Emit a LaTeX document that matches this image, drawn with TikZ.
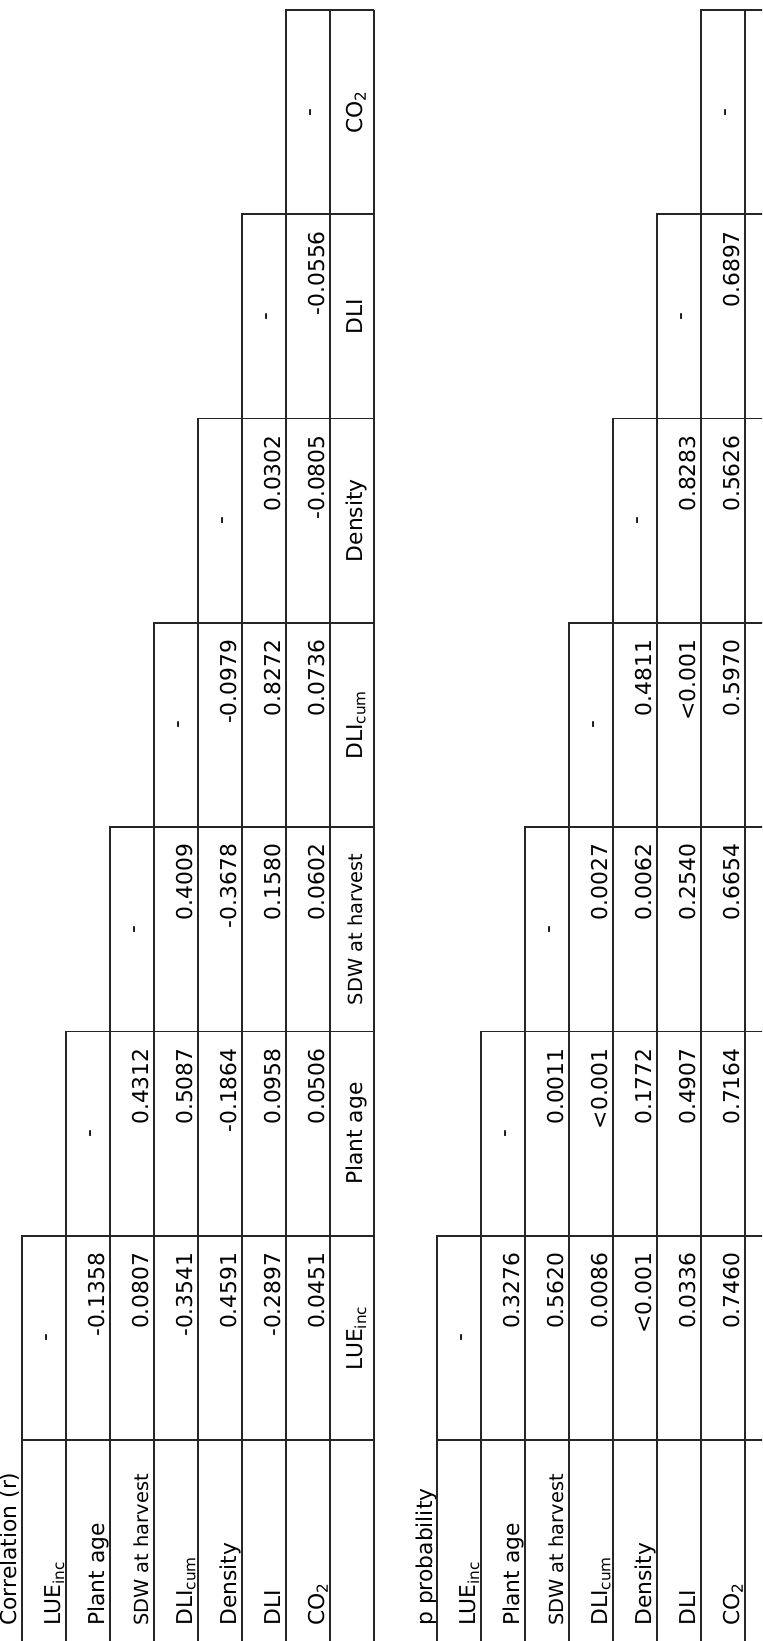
\documentclass[tikz,border=0pt]{standalone}
\usepackage{fontspec}
\setmainfont{DejaVu Sans}
\newcommand{\sdwname}{{\fontsize{9.7}{11}\selectfont SDW at harvest}}
\tikzset{
  gridline/.style={line width=0.85pt, draw=black!85},
  cell/.style={rotate=90, inner sep=0pt, font=\fontsize{10.9}{13}\selectfont},
  val/.style={cell, anchor=base east},
  rowname/.style={cell, anchor=base west},
  colname/.style={cell, anchor=base},
  nil/.style={cell, anchor=base}
}
\begin{document}
\begin{tikzpicture}[x=0.5pt,y=-0.5pt]
  \useasboundingbox (0,0) rectangle (762,1641);
  \clip (0,0) rectangle (762,1641);
  \node[rowname] (titler) at (17,1626) {Correlation (r)};
  \node[rowname] (titlep) at (432,1626) {p probability};
  \foreach \ox/\tb in {22/l,437/p}{
    \foreach \c in {1,...,7}{
      \draw[gridline] (\ox+44*\c-44,1641) -- (\ox+44*\c-44,{10+204.3*(7-\c)}) -- (\ox+352,{10+204.3*(7-\c)});
      \node[nil] (\tb d\c) at (\ox+44*\c-14,{112.15+204.3*(7-\c)}) {-};
    }
    \draw[gridline] (\ox,1440.1) -- (\ox+352,1440.1);
    \draw[gridline] (\ox+308,10) -- (\ox+308,1641);
    \draw[gridline] (\ox+352,10) -- (\ox+352,1641);
    \foreach \t [count=\r] in {LUE\textsubscript{inc},Plant age,\sdwname,DLI\textsubscript{cum},Density,DLI,CO\textsubscript{2}}
      \node[rowname] (\tb n\r) at (\ox+44*\r-6,1626) {\t};
  }
  \foreach \t [count=\c] in {LUE\textsubscript{inc},Plant age,\sdwname,DLI\textsubscript{cum},Density,DLI,CO\textsubscript{2}}
    \node[colname] (lh\c) at (362,{112.15+204.3*(7-\c)}) {\t};
  \foreach \c/\vals in {1/{-0.1358,0.0807,-0.3541,0.4591,-0.2897,0.0451},
                        2/{0.4312,0.5087,-0.1864,0.0958,0.0506},
                        3/{0.4009,-0.3678,0.1580,0.0602},
                        4/{-0.0979,0.8272,0.0736},
                        5/{0.0302,-0.0805},
                        6/{-0.0556}}
    \foreach \v [count=\k] in \vals
      \node[val] (lv\c-\k) at (22+44*\c+44*\k-6,{26.5+204.3*(7-\c)}) {\v};
  \foreach \c/\vals in {1/{0.3276,0.5620,0.0086,<0.001,0.0336,0.7460},
                        2/{0.0011,<0.001,0.1772,0.4907,0.7164},
                        3/{0.0027,0.0062,0.2540,0.6654},
                        4/{0.4811,<0.001,0.5970},
                        5/{0.8283,0.5626},
                        6/{0.6897}}
    \foreach \v [count=\k] in \vals
      \node[val] (pv\c-\k) at (437+44*\c+44*\k-6,{26.5+204.3*(7-\c)}) {\v};
\end{tikzpicture}
\end{document}
